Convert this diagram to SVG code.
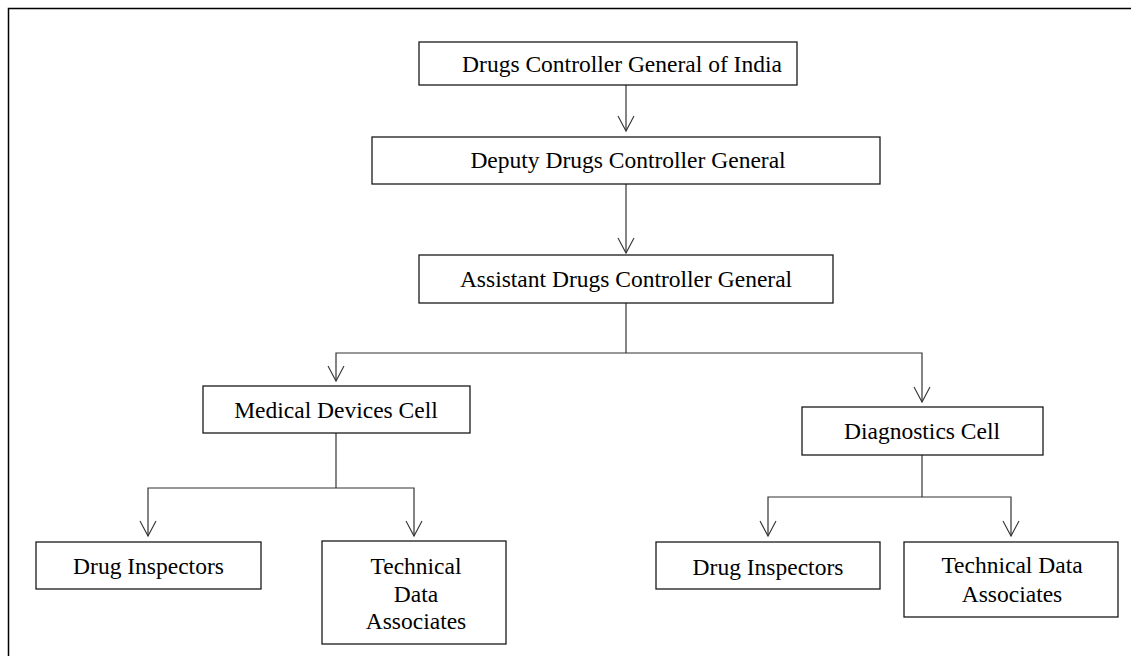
<svg xmlns="http://www.w3.org/2000/svg" width="1131" height="656" viewBox="0 0 1131 656">
<style>
.box{fill:#fff;stroke:#1a1a1a;stroke-width:1.3}
.t{font-family:"Liberation Serif","Times New Roman",serif;font-size:23.5px;fill:#000;text-anchor:middle}
.c{fill:none;stroke:#333;stroke-width:1.2}
</style>
<defs>
<marker id="arr" markerUnits="userSpaceOnUse" markerWidth="20" markerHeight="20" refX="0" refY="0" orient="auto" overflow="visible">
<path d="M-15,-8 L0,0 L-15,8" fill="none" stroke="#333" stroke-width="1.1"/>
</marker>
</defs>
<rect width="1131" height="656" fill="#fff"/>
<path d="M8.5,656 L8.5,8.5 L1131,8.5" fill="none" stroke="#000" stroke-width="1.5"/>
<g id="connectors">
<path class="c" d="M626,85 L626,131" marker-end="url(#arr)"/>
<path class="c" d="M626,184 L626,253" marker-end="url(#arr)"/>
<path class="c" d="M626,303 L626,353"/>
<path class="c" d="M626,353 L336,353 L336,381" marker-end="url(#arr)"/>
<path class="c" d="M626,353 L922,353 L922,402" marker-end="url(#arr)"/>
<path class="c" d="M336,433 L336,488"/>
<path class="c" d="M336,488 L148,488 L148,536" marker-end="url(#arr)"/>
<path class="c" d="M336,488 L414,488 L414,536" marker-end="url(#arr)"/>
<path class="c" d="M922,455 L922,497"/>
<path class="c" d="M922,497 L768,497 L768,536" marker-end="url(#arr)"/>
<path class="c" d="M922,497 L1011,497 L1011,536" marker-end="url(#arr)"/>
</g>
<g id="dcgi"><rect class="box" x="419" y="42" width="378" height="43"/><text class="t" x="622" y="72">Drugs Controller General of India</text></g>
<g id="ddcg"><rect class="box" x="372" y="137" width="508" height="47"/><text class="t" x="628" y="168">Deputy Drugs Controller General</text></g>
<g id="adcg"><rect class="box" x="419" y="255" width="414" height="48"/><text class="t" x="626" y="287">Assistant Drugs Controller General</text></g>
<g id="mdc"><rect class="box" x="203" y="386" width="267" height="47"/><text class="t" x="336" y="418">Medical Devices Cell</text></g>
<g id="dc"><rect class="box" x="802" y="407" width="241" height="48"/><text class="t" x="922" y="439">Diagnostics Cell</text></g>
<g id="di1"><rect class="box" x="36" y="542" width="225" height="47"/><text class="t" x="148.5" y="574">Drug Inspectors</text></g>
<g id="tda1"><rect class="box" x="322" y="541" width="184" height="103"/><text class="t" x="416" y="574">Technical</text><text class="t" x="416" y="602">Data</text><text class="t" x="416" y="629">Associates</text></g>
<g id="di2"><rect class="box" x="656" y="542" width="224" height="47"/><text class="t" x="768" y="575">Drug Inspectors</text></g>
<g id="tda2"><rect class="box" x="904" y="542" width="214" height="75"/><text class="t" x="1012" y="573">Technical Data</text><text class="t" x="1012" y="602">Associates</text></g>
</svg>
